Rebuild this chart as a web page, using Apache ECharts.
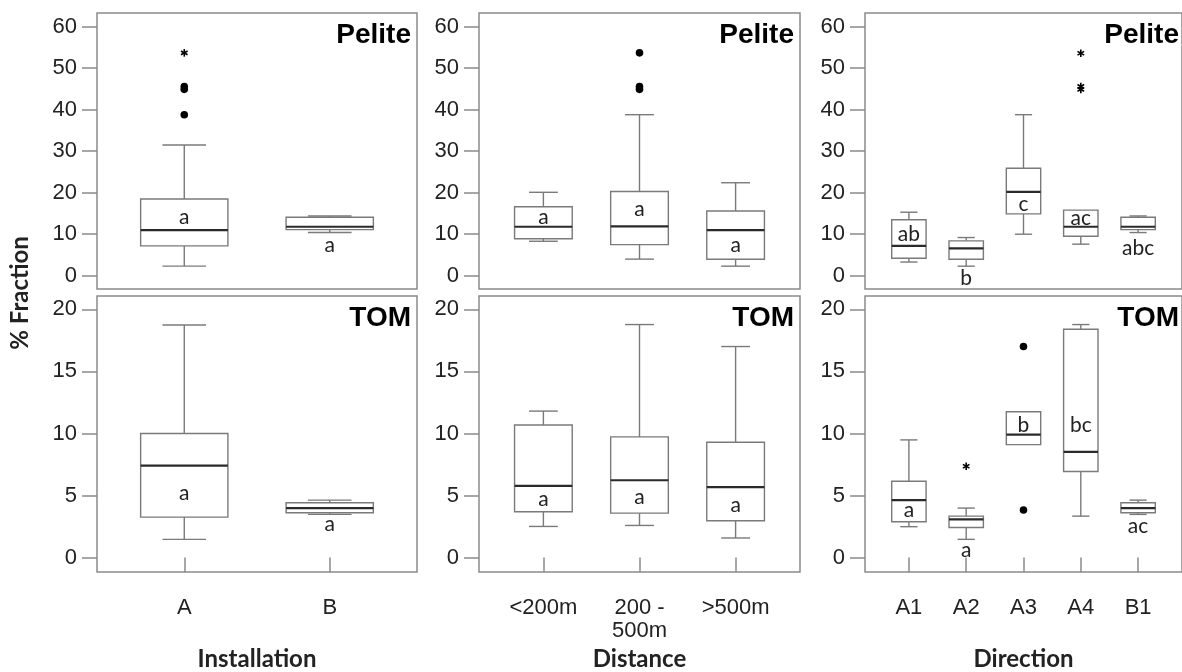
<!DOCTYPE html>
<html><head><meta charset="utf-8">
<script src="https://cdn.jsdelivr.net/npm/echarts@6/dist/echarts.min.js"></script>
<style>html,body{margin:0;padding:0;background:#fff}#c{width:1182px;height:672px}</style>
</head><body><div id="c"></div>
<script>
// ---------- data ----------
const installationCats = ['A', 'B'];
const distanceCats = ['<200m', '200 -\n500m', '>500m'];
const directionCats = ['A1', 'A2', 'A3', 'A4', 'B1'];
const peliteTicks = [0, 10, 20, 30, 40, 50, 60];
const tomTicks = [0, 5, 10, 15, 20];

// boxes: [lower whisker, Q1, median, Q3, upper whisker]
const peliteInstallation = [[2.3, 7.2, 11.0, 18.5, 31.5], [10.4, 11.1, 11.8, 14.1, 14.4]];
const peliteDistance = [[8.3, 8.9, 11.8, 16.6, 20.1], [4.0, 7.5, 11.9, 20.3, 38.8], [2.3, 3.95, 11.0, 15.6, 22.4]];
const peliteDirection = [[3.3, 4.2, 7.2, 13.5, 15.3], [2.3, 3.95, 6.6, 8.4, 9.2], [10.0, 14.9, 20.2, 25.9, 38.8], [7.6, 9.5, 11.8, 15.8, 15.8], [10.4, 11.1, 11.8, 14.1, 14.4]];
const tomInstallation = [[1.47, 3.26, 7.41, 10.0, 18.74], [3.48, 3.61, 3.99, 4.42, 4.63]];
const tomDistance = [[2.51, 3.69, 5.78, 10.68, 11.8], [2.59, 3.58, 6.23, 9.72, 18.77], [1.58, 2.97, 5.67, 9.29, 17.0]];
const tomDirection = [[2.49, 2.89, 4.63, 6.15, 9.48], [1.47, 2.43, 3.08, 3.34, 3.99], [9.1, 9.1, 9.9, 11.75, 11.75], [3.34, 6.93, 8.51, 18.39, 18.77], [3.48, 3.61, 3.99, 4.42, 4.63]];

// outliers: [category index, value, marker]
const peliteInstallationOut = [[0, 38.8, 'dot'], [0, 44.9, 'dot'], [0, 45.6, 'dot'], [0, 53.7, 'star']];
const peliteDistanceOut = [[1, 44.9, 'dot'], [1, 45.6, 'dot'], [1, 53.7, 'dot']];
const peliteDirectionOut = [[3, 44.9, 'star'], [3, 45.6, 'star'], [3, 53.6, 'star']];
const tomInstallationOut = [];
const tomDistanceOut = [];
const tomDirectionOut = [[1, 7.36, 'star'], [2, 17.0, 'dot'], [2, 3.83, 'dot']];

// significance letters: [category index, letter, value]
const peliteInstallationLetters = [[0, 'a', 14.2], [1, 'a', 7.4]];
const peliteDistanceLetters = [[0, 'a', 14.1], [1, 'a', 16.0], [2, 'a', 7.4]];
const peliteDirectionLetters = [[0, 'ab', 10.0], [1, 'b', -0.6], [2, 'c', 17.3], [3, 'ac', 13.8], [4, 'abc', 6.6]];
const tomInstallationLetters = [[0, 'a', 5.22], [1, 'a', 2.67]];
const tomDistanceLetters = [[0, 'a', 4.74], [1, 'a', 4.84], [2, 'a', 4.2]];
const tomDirectionLetters = [[0, 'a', 3.8], [1, 'a', 0.59], [2, 'b', 10.7], [3, 'bc', 10.7], [4, 'ac', 2.49]];

const panelTitles = ['Pelite', 'TOM'];
const xNames = ['Installation', 'Distance', 'Direction'];
const yName = '% Fraction';

// ---------- layout / style ----------
const W = 1182;
const cols = [{left: 97, width: 320, min: 0.4, max: 2.6}, {left: 479, width: 321, min: 0.33, max: 3.67}, {left: 865, width: 320, min: 0.234, max: 5.766}];
const rows = [{top: 13, height: 276, min: -3.2, max: 63.3}, {top: 296, height: 277, min: -1.16, max: 21.07}];
const FRAME = '#8a8a8a', BOXC = '#7a7a7a', MED = '#2a2a2a', TXT = '#222';
const TICKFONT = 'Liberation Sans, Arial, sans-serif';
const LETTERFONT = 'Lato, sans-serif';

const panels = [
  {row: 0, col: 0, cats: installationCats, boxes: peliteInstallation, out: peliteInstallationOut, letters: peliteInstallationLetters, ticks: peliteTicks},
  {row: 0, col: 1, cats: distanceCats, boxes: peliteDistance, out: peliteDistanceOut, letters: peliteDistanceLetters, ticks: peliteTicks},
  {row: 0, col: 2, cats: directionCats, boxes: peliteDirection, out: peliteDirectionOut, letters: peliteDirectionLetters, ticks: peliteTicks},
  {row: 1, col: 0, cats: installationCats, boxes: tomInstallation, out: tomInstallationOut, letters: tomInstallationLetters, ticks: tomTicks},
  {row: 1, col: 1, cats: distanceCats, boxes: tomDistance, out: tomDistanceOut, letters: tomDistanceLetters, ticks: tomTicks},
  {row: 1, col: 2, cats: directionCats, boxes: tomDirection, out: tomDirectionOut, letters: tomDirectionLetters, ticks: tomTicks}
];

const grids = [], xAxes = [], yAxes = [], series = [], graphics = [];

function seg(a, b, stroke, w) {
  return {type: 'line', shape: {x1: a[0], y1: a[1], x2: b[0], y2: b[1]}, style: {stroke: stroke, lineWidth: w, fill: null}};
}

panels.forEach(function (p, i) {
  const c = cols[p.col], r = rows[p.row];
  grids.push({left: c.left, top: r.top, width: c.width, height: r.height, show: true, borderColor: FRAME, borderWidth: 1.5, backgroundColor: 'transparent', containLabel: false});
  const catValues = p.cats.map(function (_, k) { return k + 1; });
  const bottom = p.row === 1;
  xAxes.push({
    type: 'value', gridIndex: i, min: c.min, max: c.max, splitLine: {show: false},
    axisLine: {show: false},
    axisTick: {show: bottom, customValues: catValues, length: 15, lineStyle: {color: FRAME, width: 1.5}},
    axisLabel: {show: bottom, customValues: catValues, margin: 24, fontSize: 22, fontFamily: TICKFONT, color: TXT, lineHeight: 23,
      formatter: function (v) { return p.cats[Math.round(v) - 1] || ''; }},
    name: bottom ? xNames[p.col] : '', nameLocation: 'middle', nameGap: 75,
    nameTextStyle: {fontSize: 24, fontWeight: 'bold', fontFamily: LETTERFONT, color: TXT}
  });
  yAxes.push({
    type: 'value', gridIndex: i, min: r.min, max: r.max, splitLine: {show: false},
    axisLine: {show: false},
    axisTick: {show: true, customValues: p.ticks, length: 15, lineStyle: {color: FRAME, width: 1.5}},
    axisLabel: {customValues: p.ticks, margin: 20, fontSize: 22, fontFamily: TICKFONT, color: TXT}
  });

  const halfW = 0.3, capW = 0.15;
  series.push({
    type: 'custom', xAxisIndex: i, yAxisIndex: i, clip: false, silent: true,
    data: p.boxes.map(function (b, k) { return [k + 1].concat(b); }),
    encode: {x: 0, y: [1, 2, 3, 4, 5]},
    renderItem: function (params, api) {
      const b = p.boxes[params.dataIndex];
      const x = params.dataIndex + 1;
      const ch = [];
      if (b[4] > b[3]) {
        ch.push(seg(api.coord([x, b[3]]), api.coord([x, b[4]]), BOXC, 1.4));
        ch.push(seg(api.coord([x - capW, b[4]]), api.coord([x + capW, b[4]]), BOXC, 1.4));
      }
      if (b[0] < b[1]) {
        ch.push(seg(api.coord([x, b[1]]), api.coord([x, b[0]]), BOXC, 1.4));
        ch.push(seg(api.coord([x - capW, b[0]]), api.coord([x + capW, b[0]]), BOXC, 1.4));
      }
      const tl = api.coord([x - halfW, b[3]]), br = api.coord([x + halfW, b[1]]);
      ch.push({type: 'rect', shape: {x: tl[0], y: tl[1], width: br[0] - tl[0], height: br[1] - tl[1]}, style: {fill: '#fff', stroke: BOXC, lineWidth: 1.4}});
      ch.push(seg(api.coord([x - halfW, b[2]]), api.coord([x + halfW, b[2]]), MED, 2.2));
      return {type: 'group', children: ch};
    }
  });

  if (p.out.length) {
    series.push({
      type: 'custom', xAxisIndex: i, yAxisIndex: i, clip: false, silent: true,
      data: p.out.map(function (o) { return [o[0] + 1, o[1]]; }),
      encode: {x: 0, y: 1},
      renderItem: function (params, api) {
        const o = p.out[params.dataIndex];
        const pt = api.coord([o[0] + 1, o[1]]);
        if (o[2] === 'dot') {
          return {type: 'circle', shape: {cx: pt[0], cy: pt[1], r: 3.8}, style: {fill: '#000'}};
        }
        const s = 3.8, ch = [];
        [90, 30, 150].forEach(function (deg) {
          const a = deg * Math.PI / 180, dx = Math.cos(a) * s, dy = Math.sin(a) * s;
          ch.push(seg([pt[0] - dx, pt[1] - dy], [pt[0] + dx, pt[1] + dy], '#000', 1.6));
        });
        return {type: 'group', children: ch};
      }
    });
  }

  series.push({
    type: 'custom', xAxisIndex: i, yAxisIndex: i, clip: false, silent: true,
    data: p.letters.map(function (l) { return [l[0] + 1, l[2]]; }),
    encode: {x: 0, y: 1},
    renderItem: function (params, api) {
      const l = p.letters[params.dataIndex];
      const pt = api.coord([l[0] + 1, l[2]]);
      return {type: 'text', x: pt[0], y: pt[1], style: {text: l[1], fill: TXT, font: '21px ' + LETTERFONT, textAlign: 'center', textVerticalAlign: 'middle'}};
    }
  });

  graphics.push({type: 'text', right: W - (c.left + c.width - 6), top: r.top + 8, style: {text: panelTitles[p.row], fill: '#000', font: 'bold 28px ' + TICKFONT}});
});

graphics.push({type: 'text', x: 20, y: 293, rotation: Math.PI / 2, style: {text: yName, fill: TXT, font: 'bold 24px ' + LETTERFONT, textAlign: 'center', textVerticalAlign: 'middle'}});

const chart = echarts.init(document.getElementById('c'), null, {renderer: 'canvas'});
chart.setOption({
  backgroundColor: '#fff',
  animation: false,
  grid: grids, xAxis: xAxes, yAxis: yAxes, series: series, graphic: graphics
});
</script></body></html>
